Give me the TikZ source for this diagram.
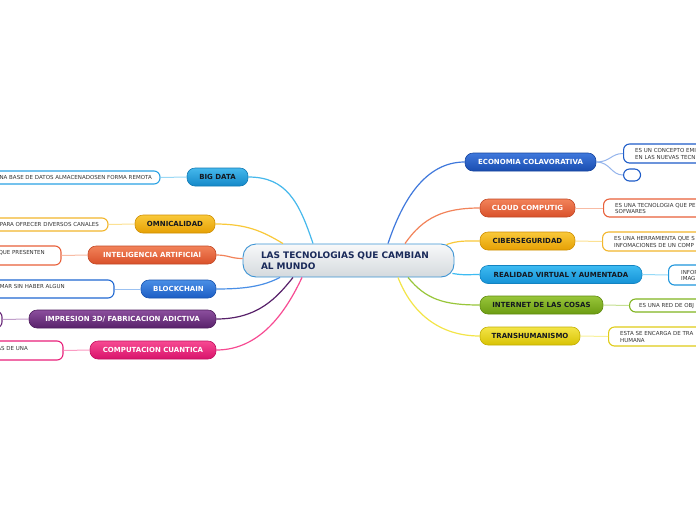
\documentclass[tikz,border=0pt]{standalone}
\usepackage{fontspec}
\setmainfont{DejaVu Sans}
\usetikzlibrary{calc}
\definecolor{bdT}{HTML}{45B8EC}\definecolor{bdB}{HTML}{1488C8}\definecolor{bdL}{HTML}{2AA2E4}
\definecolor{omT}{HTML}{F9C93A}\definecolor{omB}{HTML}{E6A004}\definecolor{omL}{HTML}{F2B62C}
\definecolor{iaT}{HTML}{F2835A}\definecolor{iaB}{HTML}{D9502A}\definecolor{iaL}{HTML}{E8603A}
\definecolor{bcT}{HTML}{4A8FE6}\definecolor{bcB}{HTML}{1C5DC4}\definecolor{bcL}{HTML}{2068D2}
\definecolor{imT}{HTML}{8C4F9E}\definecolor{imB}{HTML}{58216A}\definecolor{imL}{HTML}{6A2A7A}
\definecolor{cqT}{HTML}{F74A92}\definecolor{cqB}{HTML}{D8136B}\definecolor{cqL}{HTML}{E8207A}
\definecolor{ecT}{HTML}{3F78DC}\definecolor{ecB}{HTML}{1A4DB0}\definecolor{ecL}{HTML}{1E5CC8}
\definecolor{rvT}{HTML}{3DBBF2}\definecolor{rvB}{HTML}{1592D6}\definecolor{rvL}{HTML}{1E96DC}
\definecolor{itT}{HTML}{98C63A}\definecolor{itB}{HTML}{6C9C12}\definecolor{itL}{HTML}{80B420}
\definecolor{trT}{HTML}{F3E548}\definecolor{trB}{HTML}{D8C204}\definecolor{trL}{HTML}{E0CC18}
\definecolor{ctT}{HTML}{F8F9FA}\definecolor{ctB}{HTML}{D4D9DD}\definecolor{ctL}{HTML}{3D94D4}
\definecolor{darktxt}{HTML}{141820}
\definecolor{navy}{HTML}{1A2A5A}
\definecolor{leaftxt}{HTML}{333333}
\begin{document}
\begin{tikzpicture}[x=1pt,y=-1pt,
  brnode/.style 2 args={rounded corners=8pt, top color=#1, bottom color=#2, draw=#2!90!black,
     line width=0.6pt, minimum height=18pt, inner sep=0pt,
     font=\bfseries\fontsize{7}{8}\selectfont},
  wtxt/.style={text=white},
  dtxt/.style={text=darktxt},
  leaf/.style={rounded corners=6pt, draw=#1, fill=white, line width=1.1pt, inner sep=0pt},
  ltxt/.style={inner sep=0pt, text=leaftxt, font=\fontsize{5.5}{6.8}\selectfont, align=left},
  conn/.style={draw=#1, line width=1.2pt},
  lconn/.style={draw=#1!55, line width=1pt}
]
\useasboundingbox (0,0) rectangle (696,520);
\clip (0,0) rectangle (696,520);
\fill[white] (0,0) rectangle (696,520);

% center
\node[rounded corners=13pt, top color=ctT, bottom color=ctB, draw=ctL, line width=0.9pt,
      minimum width=211pt, minimum height=33pt, inner sep=0pt, text width=175pt, align=left, text=navy,
      font=\bfseries\fontsize{9}{11}\selectfont] (ctr) at (348.5,260.5)
      {LAS TECNOLOGIAS QUE CAMBIAN\\AL MUNDO};

% left branches
\node[brnode={bdT}{bdB}, dtxt, minimum width=61pt] (bd) at (217.5,177) {BIG DATA};
\node[brnode={omT}{omB}, dtxt, minimum width=80pt] (om) at (175,224) {OMNICALIDAD};
\node[brnode={iaT}{iaB}, wtxt, minimum width=128pt] (ia) at (152,255) {INTELIGENCIA ARTIFICIAl};
\node[brnode={bcT}{bcB}, wtxt, minimum width=75pt] (bc) at (178.5,289) {BLOCKCHAIN};
\node[brnode={imT}{imB}, wtxt, minimum width=187pt] (im) at (122.5,319) {IMPRESION 3D/ FABRICACION ADICTIVA};
\node[brnode={cqT}{cqB}, wtxt, minimum width=126pt] (cq) at (153,350) {COMPUTACION CUANTICA};

% right branches
\node[brnode={ecT}{ecB}, wtxt, minimum width=131pt] (ec) at (530.5,162) {ECONOMIA COLAVORATIVA};
\node[brnode={iaT}{iaB}, wtxt, minimum width=95pt] (cl) at (527.5,208) {CLOUD COMPUTIG};
\node[brnode={omT}{omB}, dtxt, minimum width=95pt] (ci) at (527.5,241) {CIBERSEGURIDAD};
\node[brnode={rvT}{rvB}, dtxt, minimum width=162pt] (rv) at (561,274.5) {REALIDAD VIRTUAL Y AUMENTADA};
\node[brnode={itT}{itB}, dtxt, minimum width=123pt] (it) at (541.5,305) {INTERNET DE LAS COSAS};
\node[brnode={trT}{trB}, dtxt, minimum width=100pt] (tr) at (530,336) {TRANSHUMANISMO};

% connectors center -> branches
\draw[conn=bdT] (bd.east) .. controls +(38,0) and +(-14,-42) .. ($(ctr.north)+(-35.5,0)$);
\draw[conn=omT] (om.east) .. controls +(32,0) and +(-20,-12) .. ($(ctr.north)+(-65.5,0)$);
\draw[conn=iaT] (ia.east) .. controls +(12,0) and +(-12,0) .. ($(ctr.west)+(0,-2)$);
\draw[conn=bcT] (bc.east) .. controls +(32,0) and +(-16,8) .. ($(ctr.south)+(-68.5,0)$);
\draw[conn=imB] (im.east) .. controls +(42,0) and +(-16,20) .. ($(ctr.south)+(-55.5,0)$);
\draw[conn=cqT] (cq.east) .. controls +(45,0) and +(-15,32) .. ($(ctr.south)+(-46.5,0)$);
\draw[conn=ecT] ($(ctr.north)+(39.5,0)$) .. controls +(14,-42) and +(-40,0) .. (ec.west);
\draw[conn=iaT] ($(ctr.north)+(56.5,0)$) .. controls +(18,-26) and +(-36,0) .. (cl.west);
\draw[conn=omT] ($(ctr.north east)+(-8,1)$) .. controls +(12,-4) and +(-16,0) .. (ci.west);
\draw[conn=rvT] ($(ctr.south east)+(-2,-4)$) .. controls +(12,2) and +(-12,0) .. (rv.west);
\draw[conn=itT] ($(ctr.south)+(59.5,0)$) .. controls +(18,22) and +(-36,0) .. (it.west);
\draw[conn=trT] ($(ctr.south)+(49.5,0)$) .. controls +(14,36) and +(-40,0) .. (tr.west);

% left leaves
\node[leaf=bdL, minimum width=200pt, minimum height=13pt] (lbd) at (60,177.5) {};
\node[leaf=omL, minimum width=148pt, minimum height=13pt] (lom) at (34,224.5) {};
\node[leaf=iaL, minimum width=121pt, minimum height=19pt] (lia) at (0.5,255.5) {};
\node[leaf=bcL, minimum width=174pt, minimum height=18pt] (lbc) at (27,289) {};
\node[leaf=imL, minimum width=62pt, minimum height=17pt] (lim) at (-29,319.5) {};
\node[leaf=cqL, minimum width=123pt, minimum height=19pt] (lcq) at (1.5,350.5) {};

\node[ltxt, anchor=east] (tbd) at (152,177.5) {NA BASE DE DATOS ALMACENADOSEN FORMA REMOTA};
\node[ltxt, anchor=east] (tom) at (99,224.5) {PARA OFRECER DIVERSOS CANALES};
\node[ltxt, anchor=east] (tia) at (45,253) {QUE PRESENTEN};
\node[ltxt, anchor=east] (tbc) at (65,286) {MAR SIN HABER ALGUN};
\node[ltxt, anchor=east] (tcq) at (28,348) {AS DE UNA};

\draw[lconn=bdT] (bd.west) -- (lbd.east);
\draw[lconn=omT] (om.west) -- (lom.east);
\draw[lconn=iaT] (ia.west) -- (lia.east);
\draw[lconn=bcT] (bc.west) -- (lbc.east);
\draw[lconn=imT] (im.west) -- (lim.east);
\draw[lconn=cqT] (cq.west) -- (lcq.east);

% right leaves
\node[leaf=ecL, minimum width=137pt, minimum height=19pt, anchor=west] (lec1) at (623,153.5) {};
\node[leaf=ecL, minimum width=17pt, minimum height=12pt, anchor=west] (lec2) at (623,175) {};
\node[leaf=iaL, minimum width=150pt, minimum height=18pt, anchor=west] (lcl) at (603,208) {};
\node[leaf=omL, minimum width=150pt, minimum height=19pt, anchor=west] (lci) at (602,241.5) {};
\node[leaf=rvL, minimum width=100pt, minimum height=20pt, anchor=west] (lrv) at (668,275) {};
\node[leaf=itL, minimum width=120pt, minimum height=13pt, anchor=west] (lit) at (629,305.5) {};
\node[leaf=trL, minimum width=140pt, minimum height=19pt, anchor=west] (ltr) at (608,336.5) {};

\node[ltxt, anchor=west] (tec) at (635,154) {ES UN CONCEPTO EMI\\EN LAS NUEVAS TECN};
\node[ltxt, anchor=west] (tcl) at (615,208.5) {ES UNA TECNOLOGIA QUE PE\\SOFWARES};
\node[ltxt, anchor=west] (tci) at (614,242) {ES UNA HERRAMIENTA QUE S\\INFOMACIONES DE UN COMP};
\node[ltxt, anchor=west] (trv) at (681,275.5) {INFOR\\IMAG};
\node[ltxt, anchor=west] (tit) at (639,306) {ES UNA RED DE OBJ};
\node[ltxt, anchor=west] (ttr) at (620,337) {ESTA SE ENCARGA DE TRA\\HUMANA};

\draw[lconn=ecT] (ec.east) .. controls +(14,0) and +(-12,0) .. (lec1.west);
\draw[lconn=ecT] (ec.east) .. controls +(14,0) and +(-12,0) .. (lec2.west);
\draw[lconn=iaT] (cl.east) -- (lcl.west);
\draw[lconn=omT] (ci.east) -- (lci.west);
\draw[lconn=rvT] (rv.east) -- (lrv.west);
\draw[lconn=itT] (it.east) -- (lit.west);
\draw[lconn=trT] (tr.east) -- (ltr.west);
\end{tikzpicture}
\end{document}
